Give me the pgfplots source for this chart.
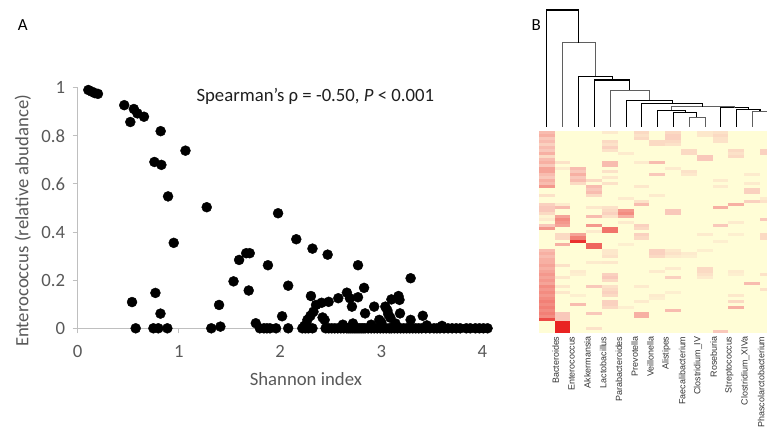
\documentclass[border=0pt]{standalone}
\usepackage{fontspec}
\setmainfont{Carlito}
\newfontfamily\heatfont{Liberation Sans}
\usepackage{pgfplots}
\pgfplotsset{compat=1.18}
\usepackage{pgfplotstable}

\definecolor{axgray}{RGB}{191,191,191}
\definecolor{txtgray}{RGB}{89,89,89}
\definecolor{dendro}{RGB}{95,95,95}

\pgfplotsset{colormap={heat}{rgb255(0cm)=(255,253,214) rgb255(3cm)=(249,200,186) rgb255(6cm)=(242,128,118) rgb255(10cm)=(232,22,22)}}

% one heatmap cell (15.8 x 3.015 bp)
\pgfdeclareplotmark{cell}{\pgfpathrectangle{\pgfpoint{-7.95bp}{-1.54bp}}{\pgfpoint{15.9bp}{3.08bp}}\pgfusepathqfill}

% relative abundance per sample (rows) and genus (columns)
\pgfplotstableread{
c0 c1 c2 c3 c4 c5 c6 c7 c8 c9 c10 c11 c12 c13 c14
0.35 0 0 0 0.1 0 0.2 0 0.2 0 0.12 0.15 0 0 0
0.4 0 0 0 0 0 0.15 0 0.25 0 0.12 0.2 0 0 0
0.3 0 0 0 0 0 0.2 0 0.25 0 0 0.15 0 0 0
0.35 0 0 0 0.2 0 0 0.2 0.2 0 0 0.15 0 0 0
0.25 0 0 0 0.15 0 0 0.2 0.15 0 0 0 0 0 0
0.35 0 0 0 0.25 0 0 0 0 0 0 0 0 0 0
0.3 0 0 0 0.15 0 0 0 0 0.2 0 0 0.2 0 0.25
0.4 0 0 0 0 0.1 0 0 0 0.2 0 0 0.15 0 0.25
0.2 0 0 0 0 0 0 0 0 0 0.3 0 0.2 0 0
0.35 0 0 0 0 0 0 0 0 0 0.3 0 0 0 0
0.4 0.15 0 0 0.35 0 0.1 0.35 0 0 0 0 0 0 0
0.3 0 0 0 0.35 0 0 0 0 0 0 0 0 0 0
0.45 0.1 0.35 0 0 0 0 0 0.1 0 0 0 0 0 0
0.45 0 0.3 0 0.15 0 0 0 0 0.15 0 0 0 0 0
0.35 0 0.4 0 0 0 0 0.3 0 0.12 0 0 0 0.1 0
0.3 0 0.3 0 0.12 0 0 0 0 0 0 0 0 0 0
0.4 0 0.35 0.2 0 0 0 0 0 0 0 0.1 0 0 0
0.35 0 0.2 0 0.15 0 0 0 0 0 0 0 0 0.1 0
0.5 0 0 0.35 0 0 0.12 0 0 0 0 0.1 0 0 0
0 0 0 0.3 0 0 0 0 0 0 0 0 0 0.25 0
0 0 0 0.35 0 0 0 0 0 0 0 0 0 0.25 0
0.15 0 0 0.2 0 0 0 0.1 0 0 0 0 0 0 0
0 0 0 0 0 0.1 0 0 0 0 0 0 0 0 0.1
0 0 0 0 0 0 0.15 0 0 0 0 0 0 0.25 0.15
0.25 0.1 0 0 0 0 0.35 0 0 0 0 0 0.4 0 0
0.3 0.35 0 0.12 0.15 0 0 0 0 0 0 0.4 0 0 0
0.3 0 0 0 0.2 0.5 0 0 0.3 0 0 0 0 0 0
0.2 0 0 0 0.25 0.55 0 0 0.3 0 0 0 0 0 0
0.05 0.45 0 0.35 0.15 0.4 0 0 0 0 0 0 0 0 0
0.1 0.55 0 0 0 0 0 0 0 0 0 0 0 0 0.3
0 0.5 0 0 0 0.1 0 0 0 0 0 0 0.1 0 0
0.3 0.45 0 0.5 0 0 0.25 0 0 0 0 0.3 0 0 0
0.5 0 0 0 0.65 0 0.2 0 0 0 0 0 0 0 0
0 0 0 0.1 0.65 0 0 0 0 0 0 0 0 0 0
0 0.2 0.45 0 0 0 0.25 0 0 0 0.1 0 0.08 0 0.2
0 0.2 0.6 0 0 0 0.2 0 0 0 0 0 0 0 0.2
0 0 0.9 0 0 0 0 0 0 0 0 0.08 0 0 0
0 0.4 0 0.7 0 0.08 0 0 0 0 0 0 0 0 0
0 0 0 0.7 0 0 0 0 0 0 0 0 0 0 0
0.35 0 0 0 0.12 0 0 0.25 0.12 0 0.08 0 0 0 0
0.4 0 0 0 0.12 0 0 0.25 0.15 0.1 0 0 0 0 0
0.35 0 0 0 0.15 0 0 0.2 0.1 0.08 0 0 0 0 0
0.4 0 0 0 0 0 0 0 0 0 0 0 0 0 0
0.4 0 0 0.1 0.12 0 0 0 0 0 0 0 0 0 0
0.45 0.15 0 0 0 0 0 0 0 0 0 0 0 0 0
0.4 0 0 0 0 0 0 0 0.1 0 0.2 0 0 0 0
0.45 0 0.1 0 0 0 0 0.1 0 0 0.2 0 0.1 0 0
0.5 0 0.08 0 0.25 0 0 0 0 0 0.15 0 0.08 0 0.15
0.45 0.12 0 0 0.3 0 0 0 0.25 0 0.1 0 0 0 0
0.5 0 0 0 0.2 0 0 0 0 0 0 0 0 0 0
0.45 0 0 0 0 0 0 0 0 0 0 0 0 0.35 0
0.55 0.12 0 0.3 0.15 0 0.1 0 0 0 0 0 0 0 0
0.5 0 0 0 0.2 0 0 0 0 0 0 0 0 0 0.15
0.55 0.12 0 0 0.25 0 0 0 0.08 0 0 0 0 0 0
0.5 0 0.08 0 0.2 0 0 0.1 0 0 0 0 0.12 0 0
0.55 0 0 0 0 0 0 0.08 0 0 0 0 0 0 0
0.6 0 0 0 0.25 0 0.1 0 0 0 0 0 0.2 0 0
0.55 0 0.35 0 0.25 0 0 0 0 0 0 0 0 0 0
0.6 0 0 0 0.2 0.08 0 0 0 0 0 0 0.4 0 0
0.55 0 0 0 0 0 0 0 0.35 0 0 0 0 0 0
0.6 0.3 0 0.3 0 0 0.4 0 0 0 0 0 0 0 0
0.55 0.3 0 0 0 0 0.4 0 0 0 0 0 0 0 0
0.8 0.3 0 0 0 0 0 0 0 0 0 0 0 0 0
0 0.95 0 0 0 0 0 0 0 0 0 0 0 0 0
0 0.95 0 0 0 0 0 0 0 0 0 0 0 0 0
0 0.95 0 0.15 0 0 0 0 0 0 0 0 0 0 0
0 0.95 0 0 0 0 0 0 0 0 0 0.3 0 0 0
}\heat

\begin{document}
\begin{tikzpicture}
\path[use as bounding box] (0,0) rectangle (767bp,434bp);

\node[font=\fontsize{17}{20}\selectfont] at (22.8bp,409bp) {A};
\node[font=\fontsize{17}{20}\selectfont] at (536.3bp,409.3bp) {B};

% ---- panel A: scatter
\begin{axis}[
  at={(77.7bp,105.7bp)}, anchor=south west, scale only axis,
  width=414.9bp, height=240.7bp,
  xmin=0, xmax=4.1, ymin=0, ymax=1,
  axis x line*=bottom, axis y line*=left,
  axis line style={draw=axgray, line width=0.9bp},
  xtick={0,1,2,3,4}, ytick={0,0.2,0.4,0.6,0.8,1},
  tick align=outside, major tick length=5bp,
  tick style={draw=axgray, line width=0.9bp},
  tick label style={font=\fontsize{18.8}{22}\selectfont, text=txtgray},
  xticklabel style={yshift=-9bp},
  yticklabel style={xshift=-4bp},
  /pgf/number format/assume math mode=true,
  xlabel={Shannon index}, ylabel={Enterococcus (relative abudance)},
  every axis x label/.style={at={(axis description cs:0.55,0)}, anchor=north, yshift=-41bp, font=\fontsize{18.8}{22}\selectfont, text=txtgray},
  every axis y label/.style={at={(axis description cs:-0.132,0.446)}, rotate=90, anchor=center, font=\fontsize{18.8}{22}\selectfont, text=txtgray},
  clip=false]
\addplot[only marks, mark=*, mark size=5bp, black] table {
x y
0.105 0.990
0.14 0.983
0.17 0.977
0.20 0.974
0.46 0.927
0.52 0.857
0.555 0.911
0.59 0.893
0.655 0.879
0.82 0.819
1.065 0.738
0.758 0.691
0.827 0.679
0.893 0.548
1.275 0.503
0.949 0.355
1.98 0.478
2.16 0.370
2.32 0.331
2.47 0.306
1.665 0.312
1.70 0.312
1.595 0.284
1.88 0.262
2.77 0.262
1.54 0.195
2.08 0.177
1.69 0.157
3.29 0.208
2.83 0.168
0.768 0.147
0.537 0.109
1.397 0.097
0.818 0.061
1.41 0.007
1.76 0.021
2.02 0.05
2.305 0.134
2.355 0.097
2.33 0.069
2.30 0.052
2.27 0.035
2.41 0.106
2.48 0.110
2.42 0.045
2.44 0.035
2.575 0.125
2.66 0.148
2.69 0.125
2.71 0.090
2.77 0.129
2.84 0.062
2.93 0.090
3.04 0.090
3.06 0.075
3.07 0.058
3.09 0.044
3.10 0.120
3.17 0.134
3.18 0.118
3.185 0.062
3.29 0.035
3.41 0.052
2.98 0.035
3.00 0.025
2.26 0.015
2.24 0.01
2.72 0.02
2.62 0.015
2.90 0.015
3.14 0.02
3.45 0.012
3.6 0.01
0.573 0
0.748 0
0.797 0
0.886 0
1.32 0
1.80 0
1.84 0
1.87 0
1.90 0
1.96 0
2.08 0
2.22 0
2.25 0
2.28 0
2.32 0
2.45 0
2.48 0
2.51 0
2.54 0
2.57 0
2.60 0
2.63 0
2.66 0
2.68 0
2.70 0
2.72 0
2.74 0
2.76 0
2.78 0
2.80 0
2.82 0
2.84 0
2.87 0
2.90 0
2.93 0
2.96 0
2.99 0
3.02 0
3.05 0
3.08 0
3.10 0
3.13 0
3.16 0
3.19 0
3.22 0
3.25 0
3.28 0
3.31 0
3.34 0
3.37 0
3.40 0
3.44 0
3.48 0
3.52 0
3.55 0
3.58 0
3.62 0
3.66 0
3.70 0
3.74 0
3.78 0
3.84 0
3.88 0
3.93 0
3.97 0
4.01 0
4.05 0
};
\node[anchor=west, font=\fontsize{18.8}{22}\selectfont, text=black!88] at (axis description cs:0.278,0.962) {Spearman’s ρ = -0.50, \textit{P} < 0.001};
\end{axis}

% ---- panel B: dendrogram (y in pixel rows from the top)
\begin{axis}[
  at={(538.8bp,303bp)}, anchor=south west, scale only axis,
  width=237bp, height=123bp,
  xmin=-0.5, xmax=14.5, ymin=8, ymax=131, y dir=reverse,
  hide axis, clip=false,
  cycle list={{draw=dendro, line width=1.1bp, mark=none}}]
\addplot coordinates {(13,127) (13,111.5) (14,111.5) (14,127)};
\addplot coordinates {(12,127) (12,109.3) (13.5,109.3) (13.5,111.5)};
\addplot coordinates {(11,127) (11,107.3) (12.75,107.3) (12.75,109.3)};
\addplot coordinates {(9,127) (9,117.3) (10,117.3) (10,127)};
\addplot coordinates {(8,127) (8,112.7) (9.5,112.7) (9.5,117.3)};
\addplot coordinates {(7,127) (7,110) (8.75,110) (8.75,112.7)};
\addplot coordinates {(7.875,110) (7.875,106.7) (11.875,106.7) (11.875,107.3)};
\addplot coordinates {(6,127) (6,103.3) (9.875,103.3) (9.875,106.7)};
\addplot coordinates {(5,127) (5,100) (7.94,100) (7.94,103.3)};
\addplot coordinates {(4,127) (4,90) (6.47,90) (6.47,100)};
\addplot coordinates {(3,127) (3,80) (5.235,80) (5.235,90)};
\addplot coordinates {(2,127) (2,76) (4.12,76) (4.12,80)};
\addplot coordinates {(1,127) (1,42.7) (3.06,42.7) (3.06,76)};
\addplot coordinates {(0,127) (0,10) (2.03,10) (2.03,42.7)};
\end{axis}

% ---- panel B: heatmap
\begin{axis}[
  at={(538.8bp,101bp)}, anchor=south west, scale only axis,
  width=237bp, height=202bp,
  xmin=-0.5, xmax=14.5, ymin=0, ymax=67, y dir=reverse,
  axis line style={draw=none}, ytick=\empty,
  xtick={0,...,14}, major tick length=0pt,
  xticklabels={Bacteroides, Enterococcus, Akkermansia, Lactobacillus, Parabacteroides, Prevotella, Veillonella, Alistipes, Faecalibacterium, Clostridium\_IV, Roseburia, Streptococcus, Clostridium\_XIVa, Phascolarctobacterium, Blautia},
  xticklabel style={rotate=90, anchor=east, font=\heatfont\fontsize{9}{10}\selectfont, text=black!80, yshift=-9bp},
  colormap name=heat, point meta min=0, point meta max=1,
  clip=true]
\pgfplotsinvokeforeach{0,...,14}{
  \addplot[scatter, only marks, mark=cell, point meta=explicit]
    table[x expr=#1, y expr=\coordindex+0.5, meta=c#1] {\heat};
}
\end{axis}
\end{tikzpicture}
\end{document}
